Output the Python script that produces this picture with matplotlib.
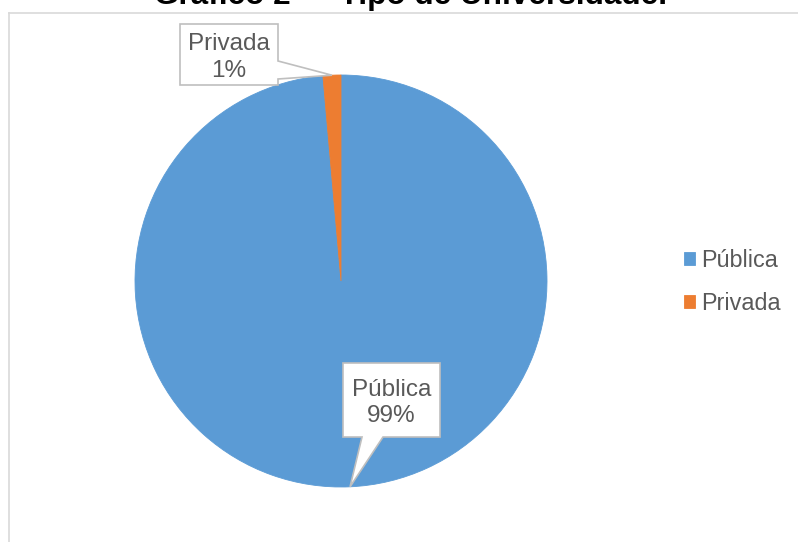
import matplotlib.pyplot as plt
import numpy as np
from matplotlib.patches import Polygon
from matplotlib.lines import Line2D

# Dados: tipo de universidade (percentuais)
tipos = ['Pública', 'Privada']
percentuais = [98.6, 1.4]
cores = ['#5B9BD5', '#ED7D31']

W, H = 798, 542
plt.rcParams['font.family'] = ['Liberation Sans', 'DejaVu Sans']
cinza_texto = '#595959'

fig = plt.figure(figsize=(W / 100, H / 100), dpi=100)
ax = fig.add_axes([0, 0, 1, 1])

# Pizza em coordenadas de pixel (y a partir de baixo)
centro = (341, H - 281)
raio = 206
fatias, _ = ax.pie(percentuais, colors=cores, startangle=90, counterclock=False,
                   center=centro, radius=raio, wedgeprops=dict(linewidth=0))
# contorno na própria cor para não aparecer fresta entre as fatias
for fatia in fatias:
    fatia.set_edgecolor(fatia.get_facecolor())
    fatia.set_linewidth(0.6)
ax.set_xlim(0, W)
ax.set_ylim(0, H)
ax.set_aspect('equal')
ax.axis('off')

# Caixas dos rótulos (x0, y0, x1, y1 a partir do topo), lado da ponta e base da ponta
caixas = {
    'Privada': (180, 24, 278, 85, 'right', (61, 79)),
    'Pública': (343, 363, 440, 437, 'bottom', (362, 383)),
}

for fatia, tipo, valor in zip(fatias, tipos, percentuais):
    ang = np.deg2rad((fatia.theta1 + fatia.theta2) / 2)
    ponta = (centro[0] + raio * np.cos(ang), centro[1] + raio * np.sin(ang))
    x0, y0, x1, y1, lado, (a, b) = caixas[tipo]
    y0, y1 = H - y0, H - y1
    if lado == 'right':
        pts = [(x0, y0), (x1, y0), (x1, H - a), ponta, (x1, H - b), (x1, y1), (x0, y1)]
    else:
        pts = [(x0, y0), (x1, y0), (x1, y1), (b, y1), ponta, (a, y1), (x0, y1)]
    ax.add_patch(Polygon(pts, closed=True, facecolor='white', edgecolor='#BFBFBF',
                         linewidth=1.2, zorder=3))
    ax.text((x0 + x1) / 2, (y0 + y1) / 2 - 3, f'{tipo}\n{valor:.0f}%', ha='center',
            va='center', fontsize=17.5, color=cinza_texto, linespacing=1.25, zorder=4)

# Legenda à direita
leg = ax.legend(fatias, tipos, loc='upper left', bbox_to_anchor=(684 / W, 1 - 249 / H),
                bbox_transform=fig.transFigure, frameon=False, fontsize=16.8,
                handlelength=0.45, handleheight=0.45, handletextpad=0.3,
                labelspacing=0.85, borderpad=0, borderaxespad=0)
for t in leg.get_texts():
    t.set_color(cinza_texto)

# Título e borda da área do gráfico
fig.text(411 / W, 1 - 4 / H, 'Gráfico 2 — Tipo de Universidade.', ha='center',
         va='baseline', fontsize=22.7, fontweight='bold', color='black')
fig.add_artist(Line2D([8.5 / W, 1], [1 - 12.5 / H] * 2, transform=fig.transFigure,
                      color='#D9D9D9', linewidth=1.2))
fig.add_artist(Line2D([8.5 / W] * 2, [0, 1 - 12.5 / H], transform=fig.transFigure,
                      color='#D9D9D9', linewidth=1.2))

fig.savefig('out.png', dpi=100, facecolor='white')
